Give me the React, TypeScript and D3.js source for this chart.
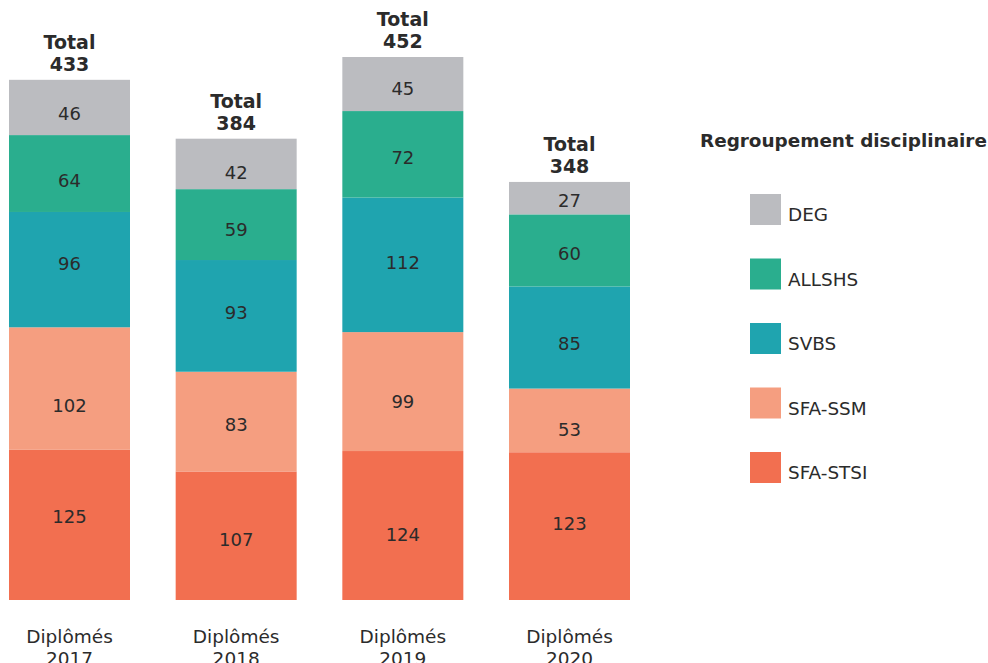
import React from "react";
import * as d3 from "d3";

const categories = ["Diplômés 2017", "Diplômés 2018", "Diplômés 2019", "Diplômés 2020"];
const seriesNames = ["SFA-STSI", "SFA-SSM", "SVBS", "ALLSHS", "DEG"];
const sfaStsi = [125, 107, 124, 123];
const sfaSsm = [102, 83, 99, 53];
const svbs = [96, 93, 112, 85];
const allshs = [64, 59, 72, 60];
const deg = [46, 42, 45, 27];
const totals = [433, 384, 452, 348];
const legendOrder = ["DEG", "ALLSHS", "SVBS", "SFA-SSM", "SFA-STSI"];
const colors: Record<string, string> = {
  "SFA-STSI": "#F26F50",
  "SFA-SSM": "#F59E80",
  SVBS: "#1FA4AF",
  ALLSHS: "#2AAE8E",
  DEG: "#BBBCC0",
};
// label baseline offsets from segment centre (styling, as placed in the original)
const labelDy: Record<string, number[]> = {
  "SFA-STSI": [-2, 10, 15, 4],
  "SFA-SSM": [23, 9, 16, 16],
  SVBS: [0, 3, 4, 12],
  ALLSHS: [13, 11, 10, 9.5],
  DEG: [12.5, 15, 11, 8.5],
};

const W = 988;
const H = 663;
const FONT = "'DejaVu Sans', Verdana, sans-serif";
const TXT = "#2b2b2b";

export default function App() {
  const valuesBySeries = [sfaStsi, sfaSsm, svbs, allshs, deg];
  const rows = categories.map((c, i) => {
    const r: any = { cat: c };
    seriesNames.forEach((s, k) => (r[s] = valuesBySeries[k][i]));
    return r;
  });
  const stack = d3.stack<any>().keys(seriesNames)(rows);
  const x = d3.scaleBand<string>().domain(categories).range([9, 630]).paddingInner(0.274).paddingOuter(0);
  const y = d3.scaleLinear().domain([0, 452]).range([600, 57]);

  return (
    <svg width={W} height={H} style={{ position: "absolute", left: 0, top: 0 }} fontFamily={FONT}>
      {stack.map((layer) => (
        <g key={layer.key}>
          {layer.map((d, i) => {
            const x0 = x(categories[i])!;
            const yTop = y(d[1]);
            const yBot = y(d[0]);
            return (
              <g key={i}>
                <rect x={x0} y={yTop} width={x.bandwidth()} height={yBot - yTop} fill={colors[layer.key]} />
                <text
                  x={x0 + x.bandwidth() / 2}
                  y={(yTop + yBot) / 2 + labelDy[layer.key][i]}
                  textAnchor="middle"
                  fontSize={18}
                  fill={TXT}
                >
                  {d[1] - d[0]}
                </text>
              </g>
            );
          })}
        </g>
      ))}
      {categories.map((c, i) => {
        const cx = x(c)! + x.bandwidth() / 2;
        const top = y(totals[i]);
        const parts = c.split(" ");
        return (
          <g key={c}>
            <text x={cx} y={top - 31} textAnchor="middle" fontSize={19} fontWeight="bold" fill={TXT}>
              Total
            </text>
            <text x={cx} y={top - 9} textAnchor="middle" fontSize={19} fontWeight="bold" fill={TXT}>
              {totals[i]}
            </text>
            <text x={cx} y={643} textAnchor="middle" fontSize={18.5} fill={TXT}>
              {parts[0]}
            </text>
            <text x={cx} y={665} textAnchor="middle" fontSize={18.5} fill={TXT}>
              {parts[1]}
            </text>
          </g>
        );
      })}
      <text x={700} y={147} fontSize={18.4} fontWeight="bold" fill={TXT}>
        Regroupement disciplinaire
      </text>
      {legendOrder.map((s, i) => {
        const yy = 194 + i * 64.5;
        return (
          <g key={s}>
            <rect x={750} y={yy} width={31} height={31} fill={colors[s]} />
            <text x={788} y={yy + 27} fontSize={18.4} fill={TXT}>
              {s}
            </text>
          </g>
        );
      })}
    </svg>
  );
}
